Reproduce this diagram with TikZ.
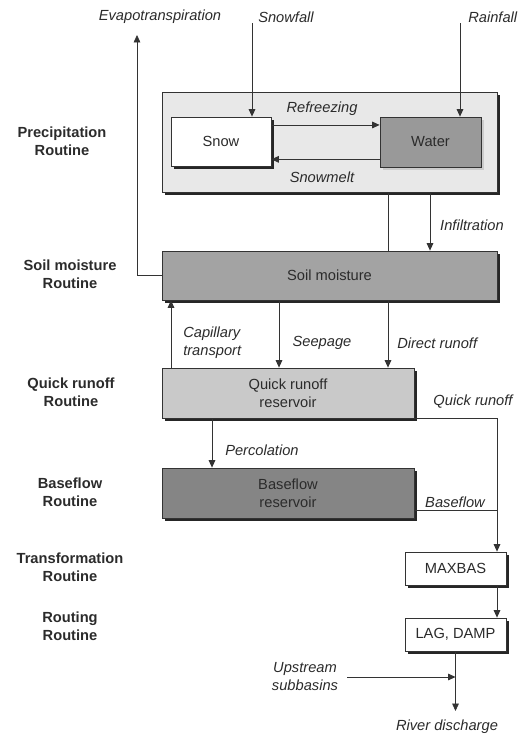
\documentclass[tikz,border=0pt]{standalone}
\usepackage{fontspec}
\setmainfont{Liberation Sans}
\usepackage{tikz}
\usetikzlibrary{
    arrows.meta,
    shadows
}
\definecolor{txtgray}{HTML}{2B2B2B}
\definecolor{linegray}{HTML}{333333}

\begin{document}
\begin{tikzpicture}[x=0.75pt,y=-0.75pt,
    font=\fontsize{11}{13.5}\selectfont, text=txtgray,
    box/.style={draw=linegray, line width=0.6pt, rectangle, align=center,
        inner sep=0pt, drop shadow={shadow xshift=2.4pt, shadow yshift=-2.4pt,
        opacity=1, fill=black!85}},
    lightshadow/.style={drop shadow={shadow xshift=2.4pt, shadow yshift=-2.4pt,
        opacity=1, fill=black!20}},
    flow/.style={draw=linegray, line width=0.6pt},
    arr/.style={flow, -{Triangle[length=5.6pt,width=5pt]}},
    lbl/.style={font=\fontsize{11}{13.5}\selectfont\itshape, inner sep=0pt},
    routine/.style={font=\fontsize{11}{13.5}\selectfont\bfseries, align=center, inner sep=0pt}
]
\useasboundingbox (0,0) rectangle (527,736);

% Routine names
\node[routine] (rprec) at (62,141) {Precipitation\\Routine};
\node[routine] (rsoil) at (70,274.5) {Soil moisture\\Routine};
\node[routine] (rquick) at (71,392.5) {Quick runoff\\Routine};
\node[routine] (rbase) at (70,492.5) {Baseflow\\Routine};
\node[routine] (rtrans) at (70,567.5) {Transformation\\Routine};
\node[routine] (rrout) at (70,626.5) {Routing\\Routine};

% Boxes
\node[box, fill=black!9, minimum width=251.25pt, minimum height=75pt] (precip) at (329.5,142) {};
\node[box, fill=white, minimum width=75pt, minimum height=36.75pt] (snow) at (221,141.5) {Snow};
\node[box, lightshadow, fill=black!40, minimum width=75.75pt, minimum height=37.5pt] (water) at (430.5,142) {Water};
\node[box, fill=black!36, minimum width=251.25pt, minimum height=36.75pt] (soil) at (329.5,275.5) {Soil moisture};
\node[box, fill=black!21, minimum width=189pt, minimum height=37.5pt] (quick) at (288,393) {Quick runoff\\reservoir};
\node[box, fill=black!48, minimum width=189pt, minimum height=37.5pt] (base) at (288,493) {Baseflow\\reservoir};
\node[box, fill=white, minimum width=75.75pt, minimum height=24.75pt] (maxbas) at (455.5,568.5) {MAXBAS};
\node[box, fill=white, minimum width=75.75pt, minimum height=24.75pt] (lag) at (455.5,634.5) {LAG, DAMP};

% Inputs and outputs
\node[lbl] (evap) at (160,17) {Evapotranspiration};
\node[lbl, anchor=west] (snowfall) at (258,17) {Snowfall};
\node[lbl, anchor=west] (rainfall) at (468,17) {Rainfall};
\coordinate (et) at (137,35);
\coordinate (sf) at (252,23);
\coordinate (rf) at (460,23);

\draw[arr] (sf) -- (sf |- snow.north);
\draw[arr] (rf) -- (rf |- water.north);
\draw[arr] (soil.west) -| (et);

% Snow and water exchange
\draw[arr] ([yshift=12.4pt]snow.east) -- ([yshift=12.4pt]snow.east -| water.west);
\draw[arr] ([yshift=-13pt]water.west) -- ([yshift=-13pt]water.west -| snow.east);
\node[lbl] (refr) at (322,109) {Refreezing};
\node[lbl] (melt) at (322,177) {Snowmelt};

% Vertical positions of connectors
\coordinate (xa) at (388,0);
\coordinate (xi) at (430,0);
\coordinate (xc) at (171,0);
\coordinate (xs) at (279,0);
\coordinate (xp) at (212,0);
\coordinate (xr) at (497,0);

\draw[flow] (precip.south -| xa) -- (soil.north -| xa);
\draw[arr] (precip.south -| xi) -- (soil.north -| xi);
\node[lbl] (infil) at (472,225) {Infiltration};

\draw[arr] (quick.north -| xc) -- (soil.south -| xc);
\node[lbl, anchor=west, align=left] (capil) at (183,342.5) {Capillary\\transport};
\draw[arr] (soil.south -| xs) -- (quick.north -| xs);
\node[lbl] (seep) at (322,343) {Seepage};
\draw[arr] (soil.south -| xa) -- (quick.north -| xa);
\node[lbl, anchor=west] (direct) at (397,343) {Direct runoff};

\draw[arr] (quick.south -| xp) -- (base.north -| xp);
\node[lbl, anchor=west] (perc) at (225,450) {Percolation};

\draw[arr] (quick.south east) -| (maxbas.north -| xr);
\node[lbl] (qro) at (473,402) {Quick runoff};
\draw[flow] ([yshift=-12.75pt]base.east) -- ([yshift=-12.75pt]base.east -| xr);
\node[lbl] (bfl) at (455,502) {Baseflow};

\draw[arr] (maxbas.south -| xr) -- (lag.north -| xr);

% Outlet
\coordinate (rd) at (455.5,711);
\coordinate (us) at (347,677);
\draw[arr] (lag.south) -- (rd);
\draw[arr] (us) -- (us -| lag.south);
\node[lbl, align=center] (upst) at (305,676.5) {Upstream\\subbasins};
\node[lbl] (river) at (447,727) {River discharge};

\end{tikzpicture}
\end{document}
